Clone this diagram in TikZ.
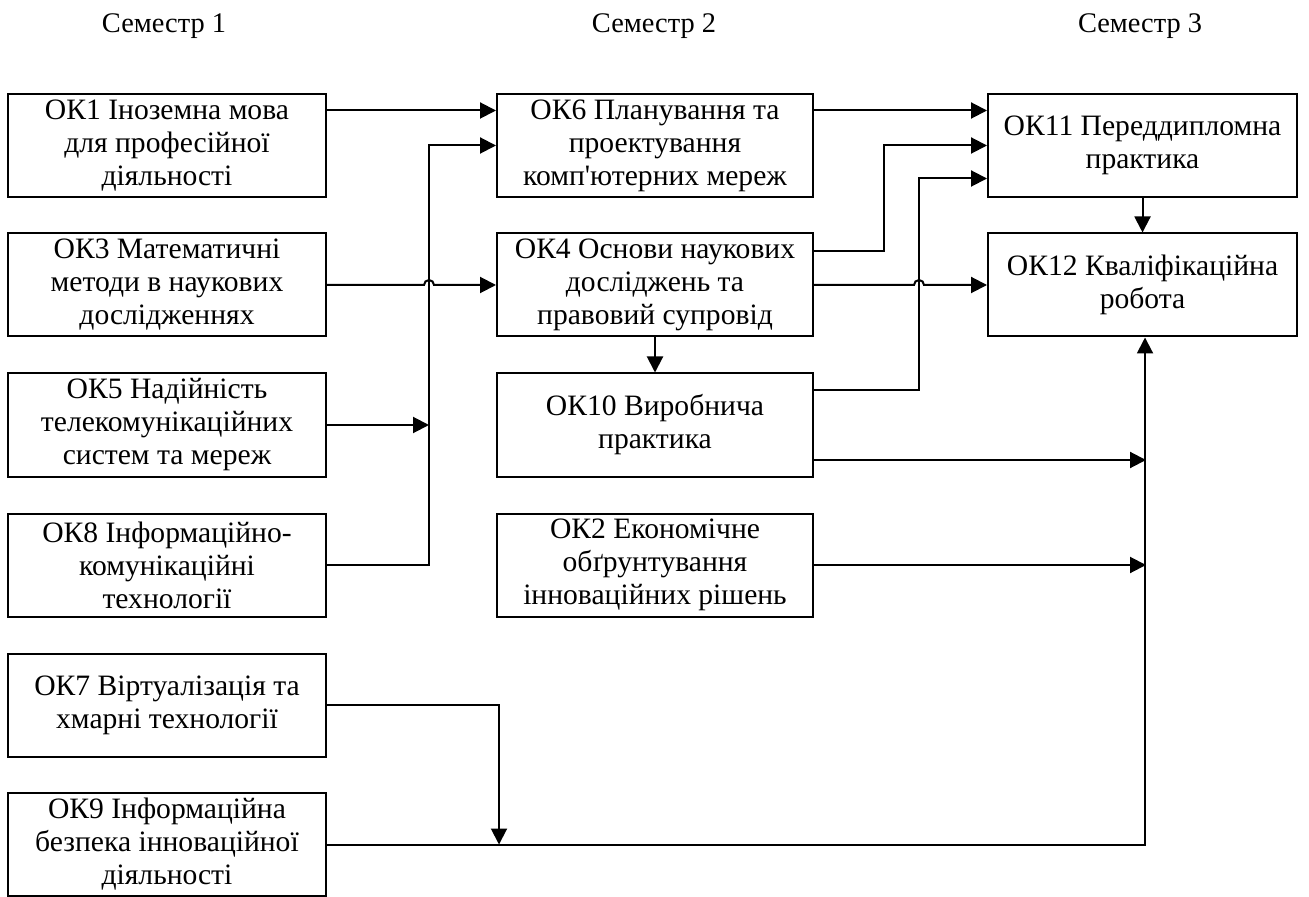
\documentclass[tikz,border=0pt]{standalone}
\usepackage{fontspec}
\setmainfont{Liberation Serif}
\usetikzlibrary{arrows.meta}

\tikzset{
  okbox/.style={draw, line width=1pt, rectangle, align=center, inner sep=0pt,
    minimum width=159pt, minimum height=51.5pt, font=\fontsize{14.8pt}{16.5pt}\selectfont},
  semlabel/.style={font=\fontsize{14.2pt}{16.5pt}\selectfont},
  arr/.style={line width=1pt, -{Triangle[length=8pt, width=8pt]}}
}

\begin{document}
\begin{tikzpicture}[x=0.5pt, y=-0.5pt]
      \useasboundingbox (0,0) rectangle (1309,897);

      % Semester headings
      \node[semlabel] (sem1) at (164, 26) {Семестр 1};
      \node[semlabel] (sem2) at (654, 26) {Семестр 2};
      \node[semlabel] (sem3) at (1140, 26) {Семестр 3};

      % Semester 1
      \node[okbox] (ok1) at (167, 145.5) {ОК1 Іноземна мова\\для професійної\\діяльності};
      \node[okbox] (ok3) at (167, 285) {ОК3 Математичні\\методи в наукових\\дослідженнях};
      \node[okbox] (ok5) at (167, 425) {ОК5 Надійність\\телекомунікаційних\\систем та мереж};
      \node[okbox] (ok8) at (167, 565) {ОК8 Інформаційно-\\комунікаційні\\технології};
      \node[okbox] (ok7) at (167, 705) {ОК7 Віртуалізація та\\хмарні технології};
      \node[okbox] (ok9) at (167, 844.5) {ОК9 Інформаційна\\безпека інноваційної\\діяльності};

      % Semester 2
      \node[okbox, minimum width=158pt] (ok6) at (655, 145.5) {ОК6 Планування та\\проектування\\комп\textquotesingle ютерних мереж};
      \node[okbox, minimum width=158pt] (ok4) at (655, 285) {ОК4 Основи наукових\\досліджень та\\правовий супровід};
      \node[okbox, minimum width=158pt] (ok10) at (655, 425) {ОК10 Виробнича\\практика};
      \node[okbox, minimum width=158pt] (ok2) at (655, 565) {ОК2 Економічне\\обґрунтування\\інноваційних рішень};

      % Semester 3
      \node[okbox, minimum width=154.5pt] (ok11) at (1142.5, 145.5) {ОК11 Переддипломна\\практика};
      \node[okbox, minimum width=154.5pt] (ok12) at (1142.5, 285) {ОК12 Кваліфікаційна\\робота};

      % Into semester 2
      \draw[arr] ([yshift=17.5pt]ok1.east) -- ([yshift=17.5pt]ok6.west);
      \draw[arr] (ok8.east) -- ++(102,0) |- (ok6.west);
      \draw[arr] (ok5.east) -- ++(102,0);
      \draw[arr] (ok3.east) -- ++(97,0) arc (180:360:5) -- (ok4.west);
      \draw[arr] (ok4.south) -- (ok10.north);

      % Into semester 3
      \draw[arr] ([yshift=17.5pt]ok6.east) -- ([yshift=17.5pt]ok11.west);
      \draw[arr] ([yshift=17pt]ok4.east) -- ++(70,0) |- (ok11.west);
      \draw[arr] ([yshift=17.5pt]ok10.east) -- ++(105,0) |- ([yshift=-16.5pt]ok11.west);
      \draw[arr] (ok4.east) -- ++(100,0) arc (180:360:5) -- (ok12.west);
      \draw[arr] (ok11.south) -- (ok12.north);

      % Common line up to the thesis
      \draw[arr] (ok9.east) -| ([xshift=1.25pt]ok12.south);
      \draw[arr] ([yshift=-17.5pt]ok10.east) -- ++(332,0);
      \draw[arr] (ok2.east) -- ++(332,0);
      \draw[arr] (ok7.east) -- ++(172,0) -- ++(0,139.5);

    \end{tikzpicture}
\end{document}
